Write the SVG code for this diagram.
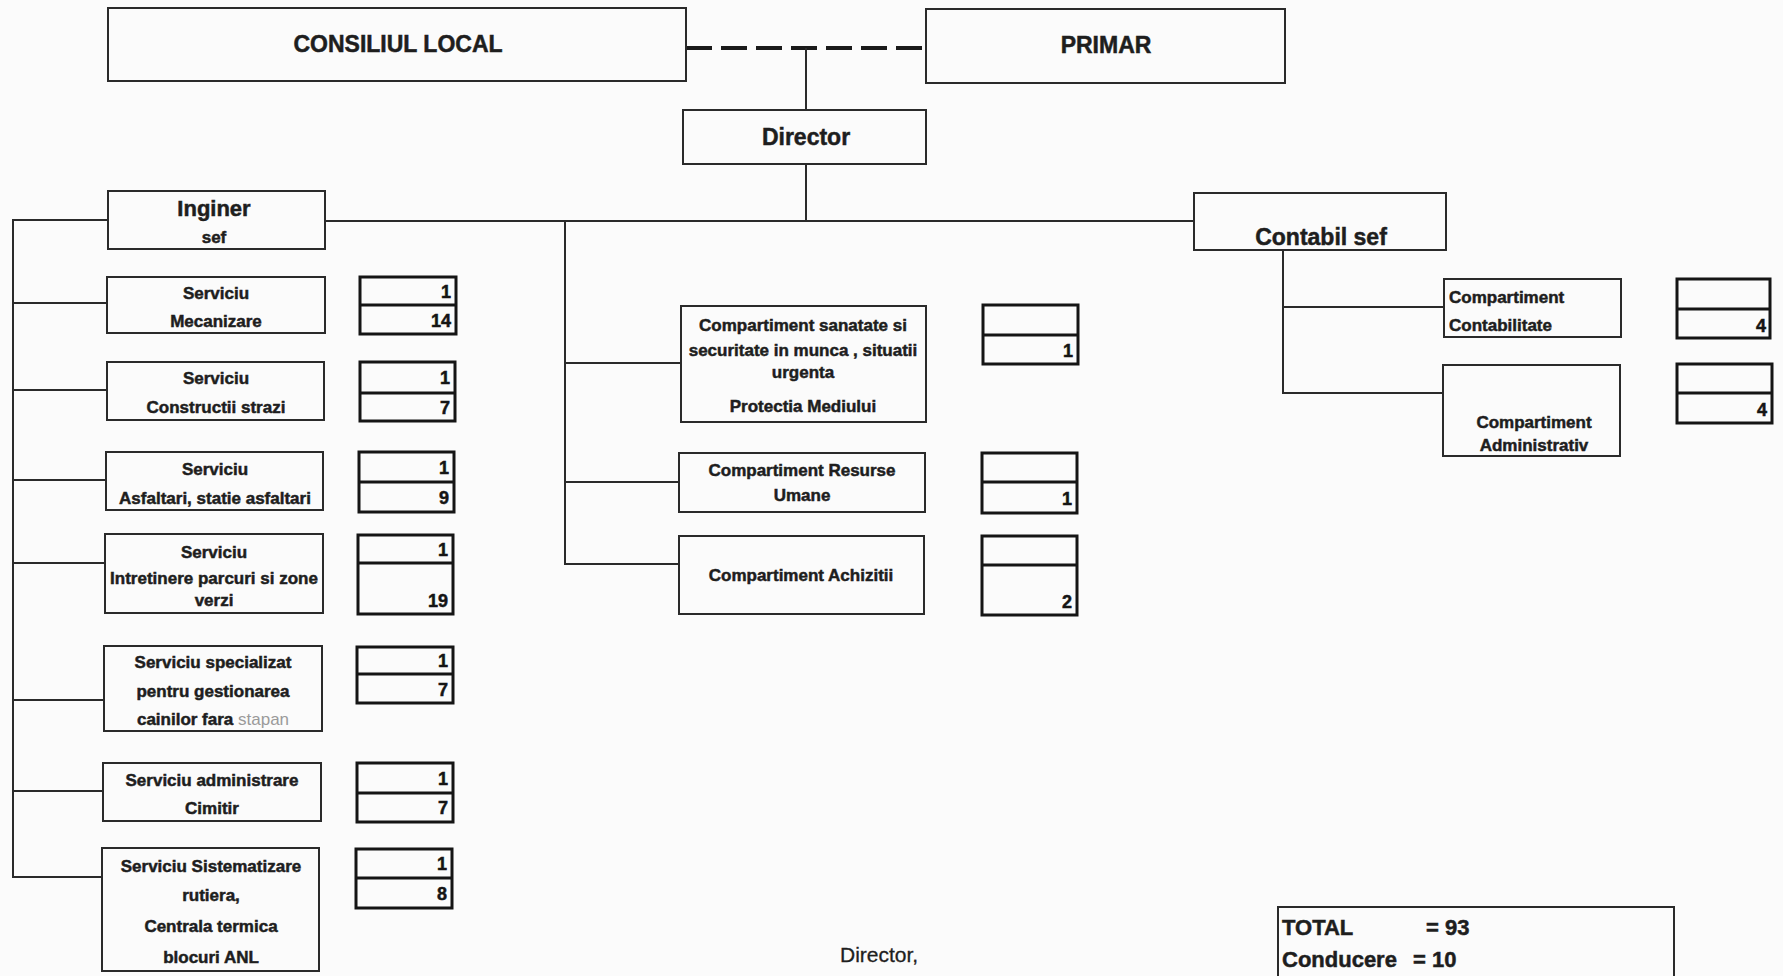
<svg xmlns="http://www.w3.org/2000/svg" width="1783" height="976" viewBox="0 0 1783 976">
<style>
.bg{fill:#fbfbfb}
.box{fill:none;stroke:#2a2a2a;stroke-width:2}
.cnt{fill:none;stroke:#151515;stroke-width:3}
.ln{fill:none;stroke:#2a2a2a;stroke-width:2}
.dash{fill:none;stroke:#1a1a1a;stroke-width:4;stroke-dasharray:26 9}
.t{font-family:"Liberation Sans",Arial,sans-serif;font-weight:bold;font-size:17px;fill:#1e1e1e;stroke:#1e1e1e;stroke-width:0.5;text-anchor:middle}
.big{font-size:23px}
.l{text-anchor:start}
.n{font-family:"Liberation Sans",Arial,sans-serif;font-weight:bold;font-size:18px;fill:#151515;stroke:#151515;stroke-width:0.5;text-anchor:end}
.grey{fill:#9a9a9a;stroke:none;font-weight:normal}
.sig{font-family:"Liberation Sans",Arial,sans-serif;font-size:21px;fill:#1e1e1e;stroke:#1e1e1e;stroke-width:0.3}
</style>
<rect class="bg" x="0" y="0" width="1783" height="976"/>

<g id="connectors">
  <line class="dash" x1="686" y1="48" x2="926" y2="48"/>
  <line class="ln" x1="806" y1="48" x2="806" y2="110"/>
  <line class="ln" x1="806" y1="164" x2="806" y2="221"/>
  <line class="ln" x1="325" y1="221" x2="1194" y2="221"/>
  <polyline class="ln" points="108,220 13,220 13,877 102,877"/>
  <line class="ln" x1="13" y1="303" x2="107" y2="303"/>
  <line class="ln" x1="13" y1="390" x2="107" y2="390"/>
  <line class="ln" x1="13" y1="480" x2="106" y2="480"/>
  <line class="ln" x1="13" y1="563" x2="105" y2="563"/>
  <line class="ln" x1="13" y1="700" x2="104" y2="700"/>
  <line class="ln" x1="13" y1="791" x2="103" y2="791"/>
  <polyline class="ln" points="565,221 565,564 679,564"/>
  <line class="ln" x1="565" y1="363" x2="681" y2="363"/>
  <line class="ln" x1="565" y1="482" x2="679" y2="482"/>
  <polyline class="ln" points="1283,250 1283,393 1443,393"/>
  <line class="ln" x1="1283" y1="307" x2="1444" y2="307"/>
</g>

<g id="consiliul-local">
  <rect class="box" x="108" y="8" width="578" height="73"/>
  <text class="t big" x="398" y="52">CONSILIUL LOCAL</text>
</g>
<g id="primar">
  <rect class="box" x="926" y="9" width="359" height="74"/>
  <text class="t big" x="1106" y="53">PRIMAR</text>
</g>
<g id="director">
  <rect class="box" x="683" y="110" width="243" height="54"/>
  <text class="t big" x="806" y="145">Director</text>
</g>
<g id="inginer-sef">
  <rect class="box" x="108" y="191" width="217" height="58"/>
  <text class="t" style="font-size:22px" x="214" y="216">Inginer</text>
  <text class="t" x="214" y="243">sef</text>
</g>
<g id="contabil-sef">
  <rect class="box" x="1194" y="193" width="252" height="57"/>
  <text class="t big" x="1321" y="245">Contabil sef</text>
</g>

<g id="serviciu-mecanizare">
  <rect class="box" x="107" y="277" width="218" height="56"/>
  <text class="t" x="216" y="299">Serviciu</text>
  <text class="t" x="216" y="327">Mecanizare</text>
  <rect class="cnt" x="360" y="277" width="96" height="57"/>
  <line class="cnt" x1="360" y1="305" x2="456" y2="305"/>
  <text class="n" x="451" y="298">1</text>
  <text class="n" x="451" y="327">14</text>
</g>
<g id="serviciu-constructii">
  <rect class="box" x="107" y="362" width="217" height="58"/>
  <text class="t" x="216" y="384">Serviciu</text>
  <text class="t" x="216" y="413">Constructii strazi</text>
  <rect class="cnt" x="360" y="362" width="95" height="59"/>
  <line class="cnt" x1="360" y1="393" x2="455" y2="393"/>
  <text class="n" x="450" y="384">1</text>
  <text class="n" x="450" y="414">7</text>
</g>
<g id="serviciu-asfaltari">
  <rect class="box" x="106" y="452" width="217" height="58"/>
  <text class="t" x="215" y="475">Serviciu</text>
  <text class="t" x="215" y="504">Asfaltari, statie asfaltari</text>
  <rect class="cnt" x="359" y="452" width="95" height="60"/>
  <line class="cnt" x1="359" y1="482" x2="454" y2="482"/>
  <text class="n" x="449" y="474">1</text>
  <text class="n" x="449" y="504">9</text>
</g>
<g id="serviciu-intretinere">
  <rect class="box" x="105" y="534" width="218" height="79"/>
  <text class="t" x="214" y="558">Serviciu</text>
  <text class="t" x="214" y="584">Intretinere parcuri si zone</text>
  <text class="t" x="214" y="606">verzi</text>
  <rect class="cnt" x="358" y="535" width="95" height="79"/>
  <line class="cnt" x1="358" y1="563" x2="453" y2="563"/>
  <text class="n" x="448" y="556">1</text>
  <text class="n" x="448" y="607">19</text>
</g>
<g id="serviciu-specializat">
  <rect class="box" x="104" y="646" width="218" height="85"/>
  <text class="t" x="213" y="668">Serviciu specializat</text>
  <text class="t" x="213" y="697">pentru gestionarea</text>
  <text class="t" x="213" y="725">cainilor fara <tspan class="grey">stapan</tspan></text>
  <rect class="cnt" x="357" y="647" width="96" height="56"/>
  <line class="cnt" x1="357" y1="674" x2="453" y2="674"/>
  <text class="n" x="448" y="667">1</text>
  <text class="n" x="448" y="696">7</text>
</g>
<g id="serviciu-cimitir">
  <rect class="box" x="103" y="763" width="218" height="58"/>
  <text class="t" x="212" y="786">Serviciu administrare</text>
  <text class="t" x="212" y="814">Cimitir</text>
  <rect class="cnt" x="357" y="763" width="96" height="59"/>
  <line class="cnt" x1="357" y1="793" x2="453" y2="793"/>
  <text class="n" x="448" y="785">1</text>
  <text class="n" x="448" y="814">7</text>
</g>
<g id="serviciu-sistematizare">
  <rect class="box" x="102" y="848" width="217" height="123"/>
  <text class="t" x="211" y="872">Serviciu Sistematizare</text>
  <text class="t" x="211" y="901">rutiera,</text>
  <text class="t" x="211" y="932">Centrala termica</text>
  <text class="t" x="211" y="963">blocuri ANL</text>
  <rect class="cnt" x="356" y="849" width="96" height="59"/>
  <line class="cnt" x1="356" y1="878" x2="452" y2="878"/>
  <text class="n" x="447" y="870">1</text>
  <text class="n" x="447" y="900">8</text>
</g>

<g id="compartiment-sanatate">
  <rect class="box" x="681" y="306" width="245" height="116"/>
  <text class="t" x="803" y="331">Compartiment sanatate si</text>
  <text class="t" x="803" y="356">securitate in munca , situatii</text>
  <text class="t" x="803" y="378">urgenta</text>
  <text class="t" x="803" y="412">Protectia Mediului</text>
  <rect class="cnt" x="983" y="305" width="95" height="59"/>
  <line class="cnt" x1="983" y1="335" x2="1078" y2="335"/>
  <text class="n" x="1073" y="357">1</text>
</g>
<g id="compartiment-resurse-umane">
  <rect class="box" x="679" y="453" width="246" height="59"/>
  <text class="t" x="802" y="476">Compartiment Resurse</text>
  <text class="t" x="802" y="501">Umane</text>
  <rect class="cnt" x="982" y="453" width="95" height="60"/>
  <line class="cnt" x1="982" y1="482" x2="1077" y2="482"/>
  <text class="n" x="1072" y="505">1</text>
</g>
<g id="compartiment-achizitii">
  <rect class="box" x="679" y="536" width="245" height="78"/>
  <text class="t" x="801" y="581">Compartiment Achizitii</text>
  <rect class="cnt" x="982" y="536" width="95" height="79"/>
  <line class="cnt" x1="982" y1="565" x2="1077" y2="565"/>
  <text class="n" x="1072" y="608">2</text>
</g>

<g id="compartiment-contabilitate">
  <rect class="box" x="1444" y="279" width="177" height="58"/>
  <text class="t l" x="1449" y="303">Compartiment</text>
  <text class="t l" x="1449" y="331">Contabilitate</text>
  <rect class="cnt" x="1677" y="279" width="93" height="59"/>
  <line class="cnt" x1="1677" y1="309" x2="1770" y2="309"/>
  <text class="n" x="1766" y="332">4</text>
</g>
<g id="compartiment-administrativ">
  <rect class="box" x="1443" y="365" width="177" height="91"/>
  <text class="t" x="1534" y="428">Compartiment</text>
  <text class="t" x="1534" y="451">Administrativ</text>
  <rect class="cnt" x="1677" y="364" width="95" height="59"/>
  <line class="cnt" x1="1677" y1="393" x2="1772" y2="393"/>
  <text class="n" x="1767" y="416">4</text>
</g>

<g id="total">
  <rect class="box" x="1278" y="907" width="396" height="80"/>
  <text class="t l" style="font-size:22px" x="1282" y="935">TOTAL</text>
  <text class="t l" style="font-size:22px" x="1426" y="935">= 93</text>
  <text class="t l" style="font-size:22px" x="1282" y="967">Conducere</text>
  <text class="t l" style="font-size:22px" x="1413" y="967">= 10</text>
</g>
<g id="semnatura">
  <text class="sig" x="840" y="962">Director,</text>
</g>
</svg>
